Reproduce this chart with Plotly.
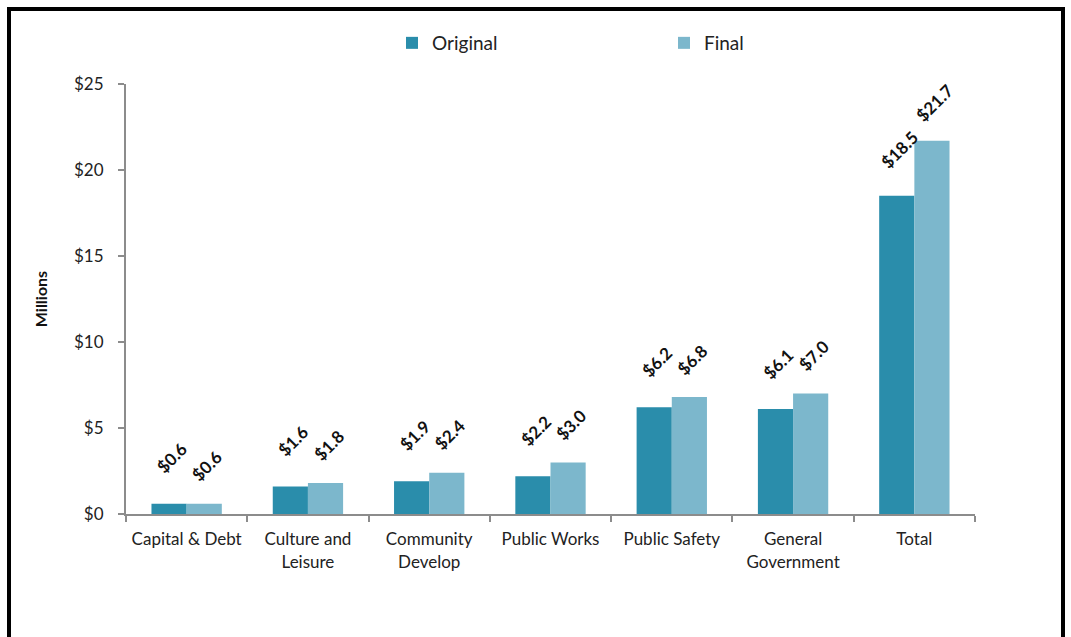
import plotly.graph_objects as go

categories = ["Capital & Debt", "Culture and<br>Leisure", "Community<br>Develop", "Public Works",
              "Public Safety", "General<br>Government", "Total"]
original = [0.6, 1.6, 1.9, 2.2, 6.2, 6.1, 18.5]
final = [0.6, 1.8, 2.4, 3.0, 6.8, 7.0, 21.7]
y_ticks = [0, 5, 10, 15, 20, 25]
y_tick_labels = ["$0", "$5", "$10", "$15", "$20", "$25"]

W, H = 1071, 637
L, R, T, B = 126, 96, 84, 123
pw, ph = W - L - R, H - T - B

FONT = "Lato"
fig = go.Figure()
fig.add_trace(go.Bar(name="Original", x=categories, y=original,
                     marker=dict(color="#2A8DAB", line=dict(width=0))))
fig.add_trace(go.Bar(name="Final", x=categories, y=final,
                     marker=dict(color="#7CB7CC", line=dict(width=0))))

# data labels
off = 0.145
for i, (o, f) in enumerate(zip(original, final)):
    for xv, v, ys in ((i - off, o, 46), (i + off, f, 38)):
        fig.add_annotation(x=xv, y=v, xref="x", yref="y", text=f"<b>${v:.1f}</b>",
                           showarrow=False, textangle=-45, xshift=3, yshift=ys,
                           font=dict(family=FONT, size=17, color="#111111"))

# frame
def px_x(p):
    return (p - L) / pw
def px_y(p):
    return (H - B - p) / ph

fig.add_shape(type="rect", xref="paper", yref="paper",
              x0=px_x(9), x1=px_x(1063), y0=px_y(660), y1=px_y(9),
              line=dict(color="black", width=4), fillcolor="rgba(0,0,0,0)", layer="above")

fig.update_layout(
    width=W, height=H,
    margin=dict(l=L, r=R, t=T, b=B),
    paper_bgcolor="white", plot_bgcolor="white",
    barmode="group", bargap=0.42, bargroupgap=0,
    font=dict(family=FONT, size=18, color="#222222"),
    showlegend=True,
    legend=dict(orientation="h", x=px_x(392), xanchor="left", y=px_y(43), yanchor="middle",
                entrywidth=227, entrywidthmode="pixels", font=dict(size=19),
                itemwidth=30),
    xaxis=dict(showline=True, linecolor="#8c8c8c", linewidth=2, ticks="outside",
               tickson="boundaries", ticklen=6, tickcolor="#8c8c8c", tickwidth=2,
               showgrid=False, tickfont=dict(size=17, color="#222222"),
               tickangle=0, ticklabelstandoff=9),
    yaxis=dict(range=[0, 25], tickvals=y_ticks, ticktext=y_tick_labels,
               showline=True, linecolor="#8c8c8c", linewidth=2, ticks="outside",
               ticklen=6, tickcolor="#8c8c8c", tickwidth=2, showgrid=False,
               zeroline=False, tickfont=dict(size=17, color="#222222"),
               ticklabelstandoff=11,
               title=dict(text="<b>Millions</b>", font=dict(size=16, color="#111111"),
                          standoff=22)),
)

fig.write_html("out.html")
